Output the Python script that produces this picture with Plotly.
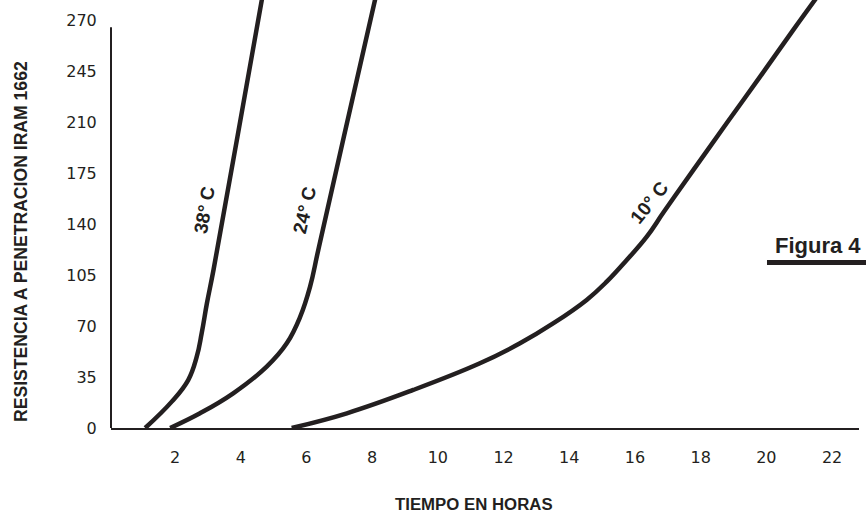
import plotly.graph_objects as go

INK = "#231f20"

# ---- data ----
t38 = [1.09, 1.90, 2.40, 2.66, 2.81, 2.97, 3.17, 3.90, 4.69]
r38 = [0, 18.1, 32.9, 48.9, 65.0, 85.6, 108.4, 200, 300]

t24 = [1.85, 2.76, 3.77, 4.79, 5.40, 5.81, 6.11, 6.36, 7.14, 8.15]
r24 = [0, 10.1, 23.8, 42.1, 58.1, 76.4, 97.0, 122.2, 200, 300]

t10 = [5.55, 7.23, 9.25, 11.28, 12.50, 13.52, 14.53, 15.14, 15.75, 16.36,
       16.87, 17.78, 18.79, 19.81, 20.82, 21.68]
r10 = [0, 10.1, 26.1, 44.4, 58.1, 71.9, 87.9, 100.4, 115.3, 131.3,
       148.0, 177.1, 209.1, 241.1, 273.2, 300]

x_ticks = [2, 4, 6, 8, 10, 12, 14, 16, 18, 20, 22]
y_tickvals = [0, 35, 70, 105, 140, 175, 210, 245, 280]
y_ticktext = ["0", "35", "70", "105", "140", "175", "210", "245", "270"]

series = [("38° C", t38, r38), ("24° C", t24, r24), ("10° C", t10, r10)]
labels = [
    ("38° C", 2.91, 149.6, -80),
    ("24° C", 5.96, 149.6, -77),
    ("10° C", 16.43, 155.0, -51),
]

fig = go.Figure()
for name, xs, ys in series:
    fig.add_trace(go.Scatter(
        x=xs, y=ys, mode="lines", name=name,
        line=dict(color=INK, width=4.5, shape="spline", smoothing=1.2),
        showlegend=False, hoverinfo="skip",
    ))

for txt, lx, ly, ang in labels:
    fig.add_annotation(
        x=lx, y=ly, xref="x", yref="y", text=f"<b>{txt}</b>",
        textangle=ang, showarrow=False,
        font=dict(family="Liberation Sans, Arial, sans-serif", size=19, color=INK),
        xanchor="center", yanchor="middle",
    )

# Figura 4 label + underline
fig.add_annotation(
    x=20.2, y=125, xref="x", yref="y", text="<b>Figura 4</b>",
    showarrow=False, xanchor="left", yanchor="middle",
    font=dict(family="Liberation Sans, Arial, sans-serif", size=22, color=INK),
)
fig.add_shape(type="line", xref="paper", yref="paper",
              x0=0.877, x1=1.01, y0=0.3867, y1=0.3867,
              line=dict(color=INK, width=5))

# y axis line (stops short of the top)
fig.add_shape(type="line", xref="paper", yref="y",
              x0=0, x1=0, y0=0, y1=275,
              line=dict(color=INK, width=2))

# axis titles
fig.add_annotation(
    x=-0.1203, y=0.4346, xref="paper", yref="paper",
    text="<b>RESISTENCIA A PENETRACION IRAM 1662</b>", textangle=-90,
    showarrow=False, xanchor="center", yanchor="middle",
    font=dict(family="Liberation Sans, Arial, sans-serif", size=17.6, color=INK),
)
fig.add_annotation(
    x=0.4853, y=-0.1776, xref="paper", yref="paper",
    text="<b>TIEMPO EN HORAS</b>",
    showarrow=False, xanchor="center", yanchor="middle",
    font=dict(family="Liberation Sans, Arial, sans-serif", size=16.8, color=INK),
)

fig.update_layout(
    width=866, height=514,
    margin=dict(l=111, r=7, t=0, b=86),
    paper_bgcolor="white", plot_bgcolor="white",
    xaxis=dict(
        range=[0.05, 22.82], tickvals=x_ticks,
        showgrid=False, zeroline=False,
        showline=True, linecolor=INK, linewidth=2,
        ticks="outside", ticklen=14, tickcolor="rgba(0,0,0,0)",
        tickfont=dict(family="DejaVu Sans, sans-serif", size=16, color=INK),
        fixedrange=True,
    ),
    yaxis=dict(
        range=[0, 293.7], tickvals=y_tickvals, ticktext=y_ticktext,
        showgrid=False, zeroline=False, showline=False,
        ticks="outside", ticklen=10, tickcolor="rgba(0,0,0,0)",
        tickfont=dict(family="DejaVu Sans, sans-serif", size=16, color=INK),
        fixedrange=True,
    ),
)

fig.write_html(
    "out.html",
    config={"displayModeBar": False},
    post_script="document.body.style.margin='0';document.body.style.overflow='hidden';",
)
